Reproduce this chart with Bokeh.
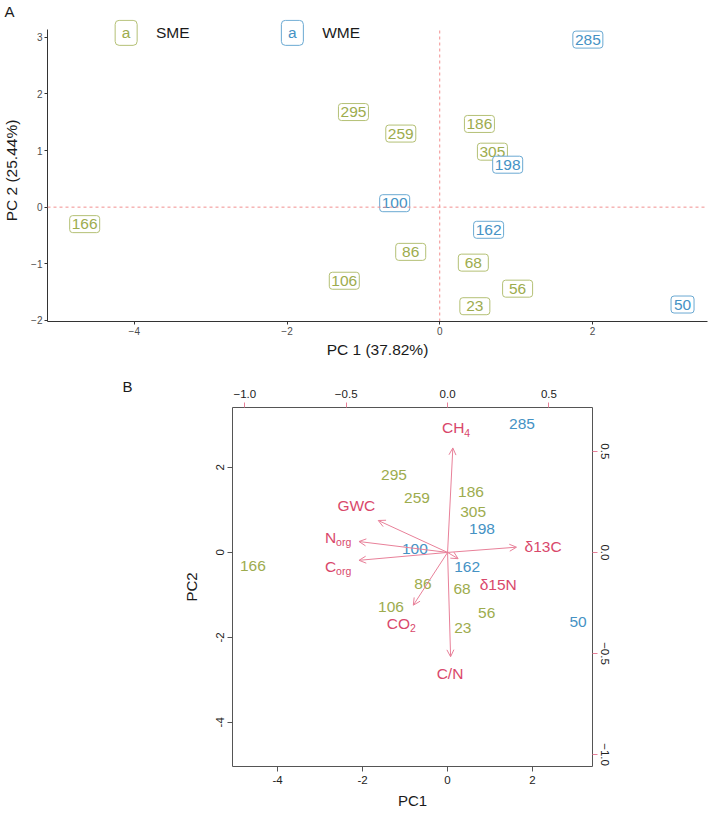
import math
from bokeh.plotting import figure
from bokeh.models import (Range1d, LinearAxis, FixedTicker, Span, Arrow,
                          OpenHead, ColumnDataSource, CustomJSTickFormatter)
from bokeh.embed import file_html
from bokeh.resources import INLINE
from bokeh.core.properties import value

# ---------------- data ----------------
sample_ids = ["166", "106", "295", "259", "186", "305", "198", "285",
              "100", "162", "86", "68", "56", "23", "50"]
season = ["SME", "SME", "SME", "SME", "SME", "SME", "WME", "WME",
          "WME", "WME", "SME", "SME", "SME", "SME", "WME"]
# panel A: label positions as drawn (repelled labels)
pc1_a = [-4.65, -1.25, -1.13, -0.51, 0.52, 0.69, 0.89, 1.94,
         -0.59, 0.64, -0.38, 0.44, 1.02, 0.46, 3.18]
pc2_a = [-0.30, -1.30, 1.68, 1.30, 1.47, 0.98, 0.75, 2.96,
         0.07, -0.40, -0.79, -0.98, -1.44, -1.75, -1.72]
# panel B: biplot scores
pc1_b = [-4.58, -1.33, -1.26, -0.72, 0.55, 0.60, 0.81, 1.75,
         -0.77, 0.46, -0.58, 0.34, 0.92, 0.36, 3.07]
pc2_b = [-0.33, -1.29, 1.83, 1.27, 1.41, 0.96, 0.56, 3.01,
         0.09, -0.35, -0.75, -0.87, -1.43, -1.79, -1.65]

var_main = ["CH", "GWC", "N", "C", "δ13C", "δ15N", "CO", "C/N"]
var_sub = ["4", "", "org", "org", "", "", "2", ""]
# arrow tips (loadings scale)
load1 = [0.026, -0.342, -0.437, -0.437, 0.340, 0.052, -0.169, 0.015]
load2 = [0.517, 0.158, 0.054, -0.039, 0.026, -0.031, -0.261, -0.516]
# variable label positions (loadings scale)
lab1 = [0.042, -0.450, -0.540, -0.540, 0.471, 0.250, -0.228, 0.012]
lab2 = [0.616, 0.232, 0.074, -0.069, 0.030, -0.158, -0.350, -0.601]

xticks_a = [-4, -2, 0, 2]
yticks_a = [-2, -1, 0, 1, 2, 3]
ticks_b = [-4, -2, 0, 2]
ticks_load = [-1.0, -0.5, 0.0, 0.5]

xlab_a = "PC 1 (37.82%)"
ylab_a = "PC 2 (25.44%)"

# ---------------- styles ----------------
FONT = "Liberation Sans"
GREEN = "#9DAC4E"
GREEN_BORDER = "#B4C075"
BLUE = "#4592C4"
BLUE_BORDER = "#6AA9D2"
RED = "#D9486B"
ARROW_C = "#E88099"
DASH_C = "#F29090"
INK = "#1A1A1A"
text_col = {"SME": GREEN, "WME": BLUE}
border_col = {"SME": GREEN_BORDER, "WME": BLUE_BORDER}
box_w_special = {"50": 23}

# ---------------- panel A ----------------
pA = figure(width=709, height=360, x_range=Range1d(-5.137, 3.507),
            y_range=Range1d(-2.02, 3.315), output_backend="svg",
            toolbar_location=None, min_border_left=44, min_border_right=2,
            min_border_top=17, min_border_bottom=38)
pA.outline_line_color = None
pA.grid.visible = False

pA.title.text = "A"
pA.title.align = "left"
pA.title.offset = -43
pA.title.standoff = 0
pA.title.text_font = FONT
pA.title.text_font_size = "15px"
pA.title.text_font_style = "normal"
pA.title.text_color = INK

minus_fmt = CustomJSTickFormatter(code="return tick < 0 ? '\\u2212' + Math.abs(tick) : tick.toString();")
axA_x = pA.below[0]
axA_y = pA.left[0]
for ax in (axA_x, axA_y):
    ax.formatter = minus_fmt
    ax.axis_line_color = "#333333"
    ax.axis_line_width = 1
    ax.major_tick_line_color = "#333333"
    ax.major_tick_out = 3
    ax.major_tick_in = 0
    ax.minor_tick_line_color = None
    ax.major_label_text_font = FONT
    ax.major_label_text_font_size = "10px"
    ax.major_label_text_color = "#4D4D4D"
    ax.major_label_standoff = 2
    ax.axis_label_text_font = FONT
    ax.axis_label_text_font_size = "15.5px"
    ax.axis_label_text_font_style = "normal"
    ax.axis_label_text_color = INK
axA_x.ticker = FixedTicker(ticks=xticks_a)
axA_y.ticker = FixedTicker(ticks=yticks_a)
axA_y.bounds = (-2.02, 3.14)
axA_x.axis_label = xlab_a
axA_x.axis_label_standoff = 3
axA_y.axis_label = ylab_a
axA_y.axis_label_standoff = 8

pA.add_layout(Span(location=0, dimension="width", line_color=DASH_C,
                   line_dash="3 3", line_width=1))
pA.segment(x0=[0], y0=[-2.02], x1=[0], y1=[3.16], line_color=DASH_C,
           line_dash="3 3", line_width=1)

for i, sid in enumerate(sample_ids):
    s = season[i]
    bw = box_w_special.get(sid, 30)
    pA.rect(x=[pc1_a[i]], y=[pc2_a[i]], width=bw, height=17,
            width_units="screen", height_units="screen", fill_color="white",
            line_color=border_col[s], line_width=1, border_radius=3)
    pA.text(x=[pc1_a[i]], y=[pc2_a[i]], text=[sid], text_color=text_col[s],
            text_font=value(FONT), text_font_size="15.5px",
            text_align="center", text_baseline="middle")

# legend (placed in the top strip of the panel)
leg_y = 3.079
for kx, tx, s in ((-4.107, -3.716, "SME"), (-1.930, -1.539, "WME")):
    pA.rect(x=[kx], y=[leg_y], width=22, height=25, width_units="screen",
            height_units="screen", fill_color="white", line_color=border_col[s],
            line_width=1, border_radius=4)
    pA.text(x=[kx], y=[leg_y], text=["a"], text_color=text_col[s],
            text_font=value(FONT), text_font_size="15.5px",
            text_align="center", text_baseline="middle")
    pA.text(x=[tx], y=[leg_y], text=[s], text_color=INK,
            text_font=value(FONT), text_font_size="15.5px",
            text_align="left", text_baseline="middle")

# ---------------- panel B ----------------
pB = figure(width=709, height=453, x_range=Range1d(-5.06, 3.41),
            y_range=Range1d(-5.04, 3.41), output_backend="svg",
            toolbar_location=None, min_border_left=232, min_border_right=117,
            min_border_top=47, min_border_bottom=47)
pB.extra_x_ranges = {"lx": Range1d(-1.061, 0.715)}
pB.extra_y_ranges = {"ly": Range1d(-1.059, 0.717)}
pB.grid.visible = False
pB.outline_line_color = "#555555"
pB.outline_line_width = 1

pB.title.text = "B"
pB.title.align = "left"
pB.title.offset = -110
pB.title.standoff = -17
pB.title.text_font = FONT
pB.title.text_font_size = "15px"
pB.title.text_font_style = "normal"
pB.title.text_color = INK

bot_ax = pB.below[0]
left_ax = pB.left[0]
top_ax = LinearAxis(x_range_name="lx")
right_ax = LinearAxis(y_range_name="ly")
pB.add_layout(top_ax, "above")
pB.add_layout(right_ax, "right")

plain_fmt = CustomJSTickFormatter(code="return tick.toString();")
load_fmt = CustomJSTickFormatter(code="return (tick < 0 ? '\\u2212' : '') + Math.abs(tick).toFixed(1);")

for ax, tk, fmt, tcol, so in ((bot_ax, ticks_b, plain_fmt, "#555555", 4),
                              (left_ax, ticks_b, plain_fmt, "#555555", 3),
                              (top_ax, ticks_load, load_fmt, ARROW_C, 5),
                              (right_ax, ticks_load, load_fmt, ARROW_C, 3)):
    ax.ticker = FixedTicker(ticks=tk, minor_ticks=[])
    ax.formatter = fmt
    ax.axis_line_color = None
    ax.major_tick_line_color = tcol
    ax.major_tick_out = 5
    ax.major_tick_in = 0
    ax.minor_tick_line_color = None
    ax.major_label_text_font = FONT
    ax.major_label_text_font_size = "11.5px"
    ax.major_label_text_color = "#222222"
    ax.major_label_standoff = so
    ax.axis_label_text_font = FONT
    ax.axis_label_text_font_size = "15px"
    ax.axis_label_text_font_style = "normal"
    ax.axis_label_text_color = INK
left_ax.major_label_orientation = "vertical"
right_ax.major_label_orientation = "vertical"
bot_ax.axis_label = "PC1"
bot_ax.axis_label_standoff = 5
left_ax.axis_label = "PC2"
left_ax.axis_label_standoff = 14

src_b = ColumnDataSource(dict(x=pc1_b, y=pc2_b, t=sample_ids,
                              c=[text_col[s] for s in season]))
pB.text(x="x", y="y", text="t", text_color="c", source=src_b,
        text_font=value(FONT), text_font_size="15.5px",
        text_align="center", text_baseline="middle")

arr_src = ColumnDataSource(dict(x0=[0.0] * len(load1), y0=[0.0] * len(load1),
                                x1=load1, y1=load2))
pB.add_layout(Arrow(end=OpenHead(size=7, line_color=ARROW_C, line_width=1),
                    x_start="x0", y_start="y0", x_end="x1", y_end="y1",
                    source=arr_src, line_color=ARROW_C, line_width=1,
                    x_range_name="lx", y_range_name="ly"))

# variable labels (with subscripts)
W = {'C': 722, 'H': 722, 'N': 722, 'O': 778, 'o': 556, 'r': 333, 'g': 556,
     '2': 556, '4': 556}
MAIN_FS, SUB_FS = 15.5, 10.5
for i, m in enumerate(var_main):
    sub = var_sub[i]
    if not sub:
        pB.text(x=[lab1[i]], y=[lab2[i]], text=[m], text_color=RED,
                x_range_name="lx", y_range_name="ly",
                text_font=value(FONT), text_font_size=f"{MAIN_FS}px",
                text_align="center", text_baseline="middle")
        continue
    mw = sum(W[c] for c in m) * MAIN_FS / 1000
    sw = sum(W[c] for c in sub) * SUB_FS / 1000
    off = (mw - sw) / 2
    pB.text(x=[lab1[i]], y=[lab2[i]], text=[m], text_color=RED, x_offset=off,
            x_range_name="lx", y_range_name="ly",
            text_font=value(FONT), text_font_size=f"{MAIN_FS}px",
            text_align="right", text_baseline="middle")
    pB.text(x=[lab1[i]], y=[lab2[i]], text=[sub], text_color=RED,
            x_offset=off, y_offset=5,
            x_range_name="lx", y_range_name="ly",
            text_font=value(FONT), text_font_size=f"{SUB_FS}px",
            text_align="left", text_baseline="middle")

open("out.html", "w").write(file_html([pA, pB], INLINE))
